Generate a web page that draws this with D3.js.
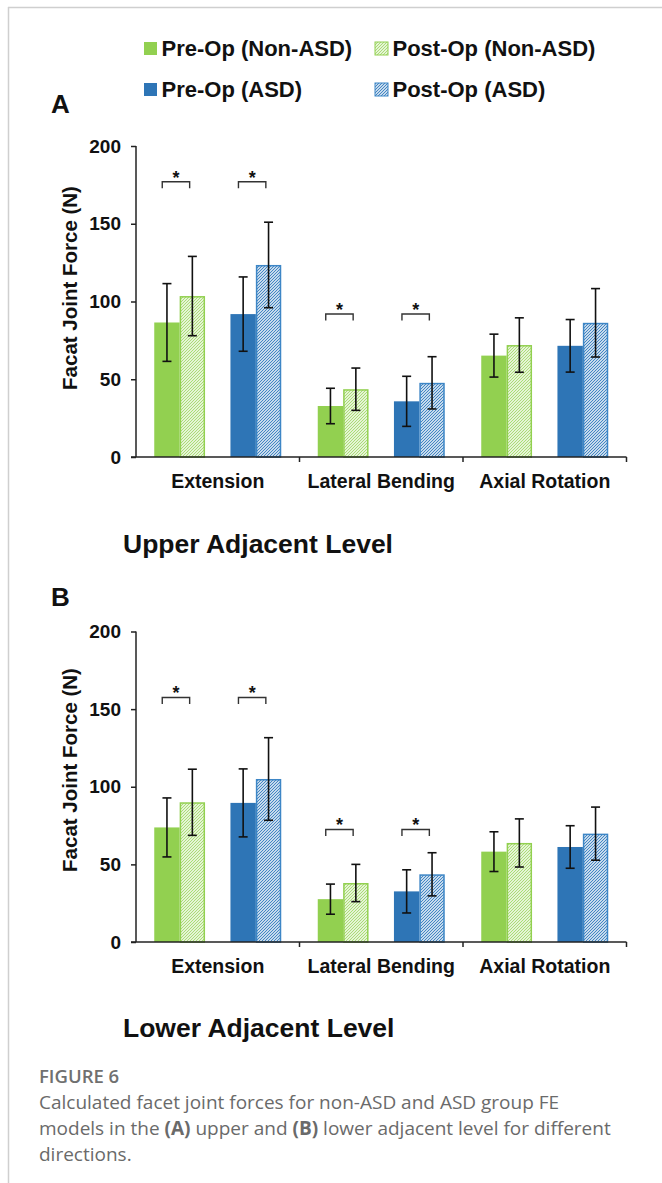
<!DOCTYPE html>
<html><head><meta charset="utf-8">
<script src="https://cdn.jsdelivr.net/npm/d3@7"></script>
<style>
html,body{margin:0;padding:0;background:#fff;}
svg{display:block;}
</style></head>
<body>
<script>
// ---------- data ----------
const categories = ["Extension", "Lateral Bending", "Axial Rotation"];
const seriesNames = ["Pre-Op (Non-ASD)", "Post-Op (Non-ASD)", "Pre-Op (ASD)", "Post-Op (ASD)"];
const yTicks = [0, 50, 100, 150, 200];

// Upper adjacent level (panel A)
const upperPreNon  = [86.5, 32.8, 65.2];
const upperPostNon = [103.5, 43.6, 72.0];
const upperPreASD  = [91.9, 35.8, 71.5];
const upperPostASD = [123.5, 47.7, 86.3];
const upperPreNonSD  = [25.0, 11.4, 13.8];
const upperPostNonSD = [25.5, 13.6, 17.5];
const upperPreASDSD  = [23.9, 16.1, 16.9];
const upperPostASDSD = [27.5, 16.8, 22.0];
const upperSig = [177, 92, null];

// Lower adjacent level (panel B)
const lowerPreNon  = [73.8, 27.6, 58.2];
const lowerPostNon = [90.0, 38.0, 63.8];
const lowerPreASD  = [89.6, 32.6, 61.2];
const lowerPostASD = [105.0, 43.6, 69.8];
const lowerPreNonSD  = [19.0, 9.7, 12.8];
const lowerPostNonSD = [21.3, 12.0, 15.5];
const lowerPreASDSD  = [21.9, 13.9, 13.7];
const lowerPostASDSD = [26.6, 13.9, 17.1];
const lowerSig = [157.5, 72.5, null];

// ---------- styling ----------
const W = 662, H = 1183;
const GREEN = "#92D050", BLUE = "#2E75B6";
const FONT = "'Liberation Sans', Arial, sans-serif";

const svg = d3.select("body").append("svg").attr("width", W).attr("height", H);

// patterns
const defs = svg.append("defs");
function hatch(id, color, bg, sw) {
  const p = defs.append("pattern").attr("id", id).attr("patternUnits", "userSpaceOnUse")
    .attr("width", 3).attr("height", 3);
  p.append("rect").attr("width", 3).attr("height", 3).attr("fill", bg);
  p.append("path").attr("d", "M-1,1 l2,-2 M0,3 l3,-3 M2,4 l2,-2")
    .attr("stroke", color).attr("stroke-width", sw);
}
hatch("hGreen", "#a6db70", "#fff", 1.1);
hatch("hBlue", "#3a7fc0", "#fff", 1.1);

const seriesFill = [GREEN, "url(#hGreen)", BLUE, "url(#hBlue)"];
const seriesStroke = [null, GREEN, null, "#3d86c6"];
const slotIndex = [0, 1, 3, 4]; // 5 slots, middle one empty

// frame lines
svg.append("line").attr("x1", 8.5).attr("x2", 8.5).attr("y1", 7).attr("y2", H).attr("stroke", "#cfcfcf").attr("stroke-width", 1.5);
svg.append("line").attr("x1", 8).attr("x2", W).attr("y1", 7.5).attr("y2", 7.5).attr("stroke", "#cfcfcf").attr("stroke-width", 1.5);

// legend
const legendItems = [
  {x: 144, y: 42, i: 0}, {x: 375, y: 42, i: 1},
  {x: 144, y: 83, i: 2}, {x: 375, y: 83, i: 3}
];
const lg = svg.append("g");
legendItems.forEach(d => {
  lg.append("rect").attr("x", d.x).attr("y", d.y).attr("width", 13).attr("height", 13)
    .attr("fill", seriesFill[d.i])
    .attr("stroke", seriesStroke[d.i] || "none").attr("stroke-width", 1);
  lg.append("text").attr("x", d.x + 17.5).attr("y", d.y + 14)
    .attr("font-family", FONT).attr("font-weight", "bold").attr("font-size", 22)
    .attr("fill", "#111").text(seriesNames[d.i]);
});

function panel(opts) {
  const {top, bottom, label, labelY, title, titleY, means, sds, sig, ytitleY} = opts;
  const g = svg.append("g");
  const x0 = d3.scaleBand().domain(categories).range([136, 626.5]).paddingInner(0).paddingOuter(0);
  const x1 = d3.scaleBand().domain(d3.range(5)).range([18.25, x0.bandwidth() - 18.25]).padding(0);
  const y = d3.scaleLinear().domain([0, 200]).range([bottom, top]);

  // y axis
  const yAxis = g.append("g").attr("transform", "translate(136,0)")
    .call(d3.axisLeft(y).tickValues(yTicks).tickSize(5).tickPadding(10).tickFormat(d3.format("d")));
  yAxis.select(".domain").attr("stroke", "#222").attr("stroke-width", 1.5).attr("d", `M0,${bottom}V${top}`);
  yAxis.selectAll(".tick line").attr("stroke", "#222").attr("stroke-width", 1.5);
  yAxis.selectAll(".tick text").attr("font-family", FONT).attr("font-weight", "bold")
    .attr("font-size", 19).attr("fill", "#111");

  // bars
  categories.forEach((c, ci) => {
    means.forEach((arr, si) => {
      const bx = x0(c) + x1(slotIndex[si]);
      const bw = x1.bandwidth();
      const v = arr[ci];
      const stroke = seriesStroke[si];
      g.append("rect")
        .attr("x", stroke ? bx + 0.75 : bx).attr("y", y(v) + (stroke ? 0.75 : 0))
        .attr("width", stroke ? bw - 1.5 : bw).attr("height", y(0) - y(v) - (stroke ? 0.75 : 0))
        .attr("fill", seriesFill[si])
        .attr("stroke", stroke || "none").attr("stroke-width", 1.5);
    });
  });
  // error bars
  categories.forEach((c, ci) => {
    means.forEach((arr, si) => {
      const cx = x0(c) + x1(slotIndex[si]) + x1.bandwidth() / 2;
      const v = arr[ci], s = sds[si][ci];
      const eg = g.append("g").attr("stroke", "#111").attr("stroke-width", 1.6);
      eg.append("line").attr("x1", cx).attr("x2", cx).attr("y1", y(v + s)).attr("y2", y(v - s));
      eg.append("line").attr("x1", cx - 4.5).attr("x2", cx + 4.5).attr("y1", y(v + s)).attr("y2", y(v + s));
      eg.append("line").attr("x1", cx - 4.5).attr("x2", cx + 4.5).attr("y1", y(v - s)).attr("y2", y(v - s));
    });
  });

  // x axis
  g.append("line").attr("x1", 131).attr("x2", 626.5).attr("y1", bottom).attr("y2", bottom)
    .attr("stroke", "#222").attr("stroke-width", 1.5);
  const bounds = categories.map(c => x0(c) + x0.bandwidth());
  bounds.forEach(bx => {
    g.append("line").attr("x1", bx).attr("x2", bx).attr("y1", bottom).attr("y2", bottom + 5)
      .attr("stroke", "#222").attr("stroke-width", 1.5);
  });
  categories.forEach(c => {
    g.append("text").attr("x", x0(c) + x0.bandwidth() / 2).attr("y", bottom + 30.5)
      .attr("text-anchor", "middle").attr("font-family", FONT).attr("font-weight", "bold")
      .attr("font-size", 19.5).attr("fill", "#111").text(c);
  });

  // significance brackets
  categories.forEach((c, ci) => {
    if (sig[ci] == null) return;
    [[0, 1], [3, 4]].forEach(([a, b]) => {
      const xa = x0(c) + x1(a) + 8, xb = x0(c) + x1(b) + 10;
      const yy = y(sig[ci]);
      g.append("path").attr("d", `M${xa},${yy + 6.5}V${yy}H${xb}V${yy + 6.5}`)
        .attr("fill", "none").attr("stroke", "#333").attr("stroke-width", 1.4);
      g.append("text").attr("x", (xa + xb) / 2).attr("y", yy + 2)
        .attr("text-anchor", "middle").attr("font-family", FONT).attr("font-weight", "bold")
        .attr("font-size", 18).attr("fill", "#111").text("*");
    });
  });

  // y title
  g.append("text").attr("transform", `translate(77,${ytitleY}) rotate(-90)`)
    .attr("text-anchor", "middle").attr("font-family", FONT).attr("font-weight", "bold")
    .attr("font-size", 20.5).attr("fill", "#111").text("Facat Joint Force (N)");

  // panel letter
  g.append("text").attr("x", 51).attr("y", labelY).attr("font-family", FONT).attr("font-weight", "bold")
    .attr("font-size", 26).attr("fill", "#111").text(label);

  // panel title
  g.append("text").attr("x", 123).attr("y", titleY).attr("font-family", FONT).attr("font-weight", "bold")
    .attr("font-size", 26.5).attr("fill", "#111").text(title);
}

panel({top: 146, bottom: 457, label: "A", labelY: 113, title: "Upper Adjacent Level", titleY: 553,
  means: [upperPreNon, upperPostNon, upperPreASD, upperPostASD],
  sds: [upperPreNonSD, upperPostNonSD, upperPreASDSD, upperPostASDSD], sig: upperSig, ytitleY: 288});
panel({top: 631.5, bottom: 942, label: "B", labelY: 606, title: "Lower Adjacent Level", titleY: 1037,
  means: [lowerPreNon, lowerPostNon, lowerPreASD, lowerPostASD],
  sds: [lowerPreNonSD, lowerPostNonSD, lowerPreASDSD, lowerPostASDSD], sig: lowerSig, ytitleY: 770});

// caption
const CAP = "'Open Sans', 'Noto Sans', sans-serif";
svg.append("text").attr("x", 39).attr("y", 1083).attr("font-family", CAP).attr("font-size", 18.5)
  .attr("font-weight", 600).attr("fill", "#707070").text("FIGURE 6");
const capLines = [
  [{t: "Calculated facet joint forces for non-ASD and ASD group FE"}],
  [{t: "models in the "}, {t: "(A)", b: true}, {t: " upper and "}, {t: "(B)", b: true}, {t: " lower adjacent level for different"}],
  [{t: "directions."}]
];
capLines.forEach((line, li) => {
  const t = svg.append("text").attr("x", 39).attr("y", 1109 + li * 26)
    .attr("font-family", CAP).attr("font-size", 19).attr("fill", "#6a6a6a");
  line.forEach(s => t.append("tspan").attr("font-weight", s.b ? 700 : 400).text(s.t));
});
</script>
</body></html>
